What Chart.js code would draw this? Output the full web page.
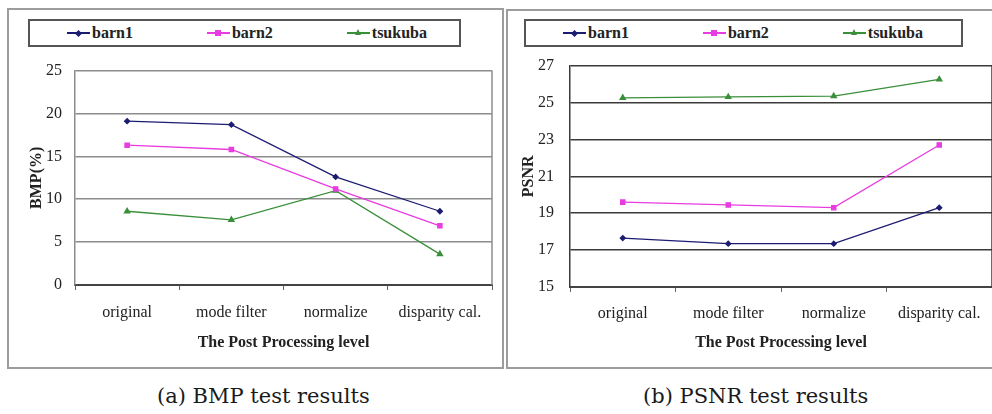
<!DOCTYPE html>
<html>
<head>
<meta charset="utf-8">
<script src="https://cdn.jsdelivr.net/npm/chart.js@4.4.0/dist/chart.umd.min.js"></script>
<style>
  html, body { margin: 0; padding: 0; background: #fff; }
  body { width: 992px; height: 414px; overflow: hidden; position: relative; }
  .panel { position: absolute; border: 2px solid #9c9c9c; box-sizing: border-box; }
  #panelA { left: 7px; top: 8px; width: 497px; height: 361px; }
  #panelB { left: 506px; top: 9px; width: 500px; height: 360px; }
  canvas { position: absolute; }
  #chartA { left: 8px; top: 48px; }
  #chartB { left: 507px; top: 40px; }
  .legend {
    position: absolute; height: 28px; box-sizing: border-box;
    border: 2px solid #555; display: flex; align-items: center;
    padding-left: 37px; gap: 74px;
    font: bold 16px "Liberation Serif", serif; color: #222;
  }
  #legendA { left: 28px; top: 19px; width: 433px; }
  #legendB { left: 524px; top: 19px; width: 439px; }
  .item { display: flex; align-items: center; }
  .mk { position: relative; width: 23px; height: 1.5px; margin-right: 2px; }
  .mk span { position: absolute; left: 50%; top: 50%; }
  .caption {
    position: absolute; top: 384px; line-height: 24px;
    font: 21px "DejaVu Serif", serif; color: #1a1a1a; white-space: nowrap;
  }
</style>
</head>
<body>
<div class="panel" id="panelA"></div>
<div class="panel" id="panelB"></div>
<div class="legend" id="legendA"></div>
<div class="legend" id="legendB"></div>
<canvas id="chartA" width="494" height="317"></canvas>
<canvas id="chartB" width="495" height="325"></canvas>
<div class="caption" style="left:157px">(a) BMP test results</div>
<div class="caption" style="left:643px">(b) PSNR test results</div>
<script>
const categories = ["original", "mode filter", "normalize", "disparity cal."];
const seriesNames = ["barn1", "barn2", "tsukuba"];
const seriesColors = ["#1c1c72", "#e83ce0", "#3a8f3a"];
const pointStyles = ["rectRot", "rect", "triangle"];

// BMP(%)
const bmpBarn1 = [19.1, 18.7, 12.6, 8.6];
const bmpBarn2 = [16.3, 15.8, 11.2, 6.9];
const bmpTsukuba = [8.6, 7.6, 11.0, 3.6];

// PSNR
const psnrBarn1 = [17.65, 17.35, 17.35, 19.3];
const psnrBarn2 = [19.6, 19.45, 19.3, 22.7];
const psnrTsukuba = [25.25, 25.3, 25.35, 26.25];

const tickFont = { family: "'Liberation Serif', serif", size: 16 };
const boldFont = { family: "'Liberation Serif', serif", size: 16, weight: "bold" };

// right side of the plot frame
const framePlugin = {
  id: "frame",
  beforeDatasetsDraw(chart, args, opts) {
    const { ctx, chartArea: a } = chart;
    ctx.save();
    ctx.strokeStyle = opts.color;
    ctx.lineWidth = 1.5;
    ctx.beginPath();
    ctx.moveTo(a.right, a.top);
    ctx.lineTo(a.right, a.bottom);
    ctx.stroke();
    ctx.restore();
  }
};

function buildLegend(id) {
  const box = document.getElementById(id);
  seriesNames.forEach((name, i) => {
    const item = document.createElement("div");
    item.className = "item";
    const mk = document.createElement("div");
    mk.className = "mk";
    mk.style.background = seriesColors[i];
    const dot = document.createElement("span");
    if (pointStyles[i] === "rectRot") {
      dot.style.cssText = "width:5px;height:5px;margin:-2.5px 0 0 -2.5px;transform:rotate(45deg);background:" + seriesColors[i];
    } else if (pointStyles[i] === "rect") {
      dot.style.cssText = "width:6px;height:6px;margin:-3px 0 0 -3px;background:" + seriesColors[i];
    } else {
      dot.style.cssText = "width:0;height:0;margin:-4px 0 0 -3.5px;border-left:3.5px solid transparent;border-right:3.5px solid transparent;border-bottom:6px solid " + seriesColors[i];
    }
    mk.appendChild(dot);
    const label = document.createElement("span");
    label.textContent = name;
    item.appendChild(mk);
    item.appendChild(label);
    box.appendChild(item);
  });
}

function makeChart(canvasId, values, yTitle, yMin, yMax, step, cfg) {
  const datasets = values.map((vals, i) => ({
    label: seriesNames[i],
    data: vals,
    borderColor: seriesColors[i],
    backgroundColor: seriesColors[i],
    borderWidth: 1.3,
    pointStyle: pointStyles[i],
    pointRadius: i === 0 ? 2.5 : 3,
    tension: 0
  }));

  return new Chart(document.getElementById(canvasId), {
    type: "line",
    data: { labels: categories, datasets: datasets },
    options: {
      responsive: false,
      animation: false,
      layout: { padding: { top: 0, right: cfg.padRight, left: 0, bottom: 0 } },
      plugins: {
        legend: { display: false },
        tooltip: { enabled: false },
        frame: { color: cfg.gridColor }
      },
      scales: {
        x: {
          offset: true,
          grid: { offset: true, drawOnChartArea: false, tickLength: 5, color: "#666", lineWidth: 1 },
          border: { color: "#444", width: 2 },
          ticks: { font: tickFont, color: "#222", padding: cfg.xTickPad, maxRotation: 0 },
          title: { display: true, text: "The Post Processing level", font: boldFont, color: "#222",
                   padding: { top: 0, bottom: cfg.xTitlePad } },
          afterFit: (s) => { s.height = cfg.xHeight; }
        },
        y: {
          min: yMin,
          max: yMax,
          ticks: { stepSize: step, font: tickFont, color: "#222", padding: cfg.yTickPad },
          grid: { color: cfg.gridColor, lineWidth: 1.5, drawTicks: false },
          border: { color: cfg.gridColor, width: 1.5 },
          title: { display: true, text: yTitle, font: boldFont, color: "#222",
                   padding: { top: cfg.yTitlePad, bottom: 0 } },
          afterFit: (s) => { s.width = cfg.yWidth; }
        }
      }
    },
    plugins: [framePlugin]
  });
}

buildLegend("legendA");
buildLegend("legendB");

makeChart("chartA", [bmpBarn1, bmpBarn2, bmpTsukuba], "BMP(%)", 0, 25, 5, {
  padRight: 10, xHeight: 80, xTitlePad: 13, xTickPad: 13, yTickPad: 13, yTitlePad: 19, yWidth: 67,
  gridColor: "#8c8c8c"
});

makeChart("chartB", [psnrBarn1, psnrBarn2, psnrTsukuba], "PSNR", 15, 27, 2, {
  padRight: 10, xHeight: 78, xTitlePad: 13, xTickPad: 12, yTickPad: 16, yTitlePad: 12, yWidth: 63,
  gridColor: "#3a3a3a"
});
</script>
</body>
</html>
